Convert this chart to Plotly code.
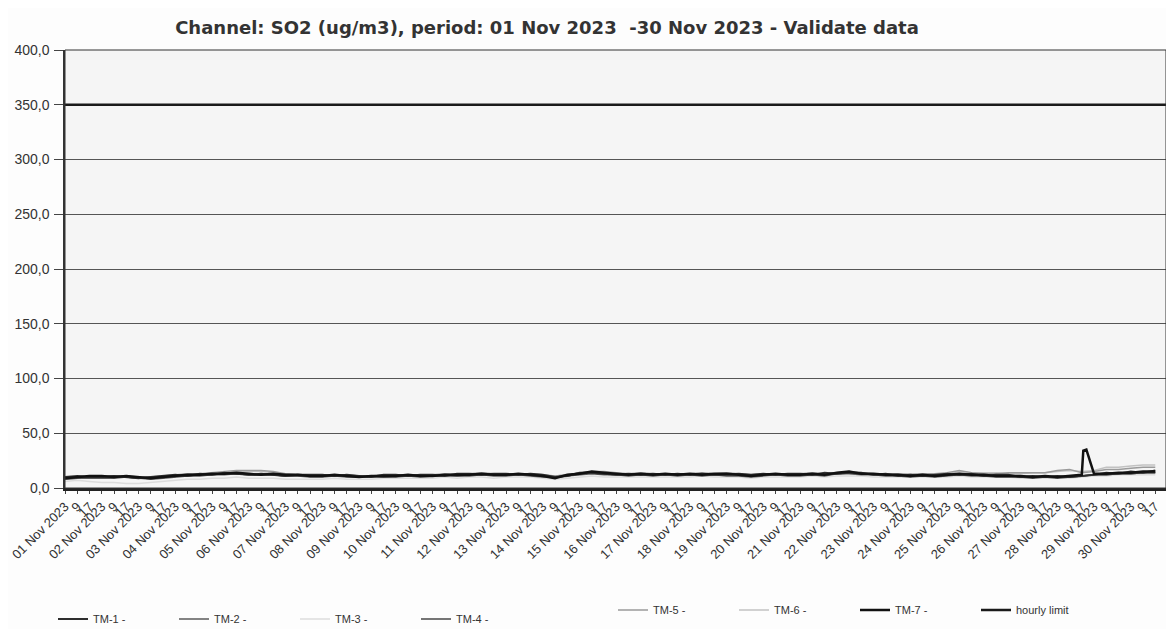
import plotly.graph_objects as go

# ---------------- data ----------------
days = [f"{d:02d} Nov 2023" for d in range(1, 31)]
slot_labels = ["", "9", "17"]          # labels of the 3 ticks per day (01h, 09h, 17h)
step_hours = 8                          # data & tick spacing in hours

tm1 = [10,11,10, 10,11,10, 9,10,11, 12,11,13, 12,14,13, 12,13,12, 11,12,12, 12,11,12, 11,10,12, 12,11,12,
       12,11,13, 13,12,13, 13,12,13, 12,10,11, 14,14,13, 12,13,12, 13,12,13, 12,13,12, 12,13,12, 13,12,13,
       13,12,14, 13,14,14, 12,13,11, 12,11,12, 13,12,13, 11,12,12, 10,11,10, 11,10,11, 12,14,13, 15,14,16]
tm2 = [8,9,9, 9,9,10, 9,8,9, 10,11,11, 12,12,13, 12,12,12, 11,11,10, 10,11,10, 10,10,10, 10,11,10,
       11,11,11, 11,12,11, 11,12,11, 10,10,11, 12,13,12, 12,11,12, 11,12,11, 12,11,12, 11,11,10, 11,12,11,
       11,12,11, 13,13,12, 12,11,11, 10,11,10, 11,12,11, 11,10,10, 10,9,10, 9,10,11, 12,12,13, 13,14,14]
tm3 = [6,7,6, 5,5,4, 4,5,6, 7,8,8, 9,9,10, 9,9,9, 8,8,8, 8,9,8, 8,8,9, 9,9,9,
       9,10,9, 10,10,9, 10,10,10, 9,8,9, 10,11,10, 10,10,10, 10,10,10, 10,11,10, 10,10,9, 10,10,10,
       10,11,10, 11,11,11, 10,10,10, 10,10,10, 10,11,10, 10,10,10, 9,9,9, 9,9,10, 11,11,12, 12,12,12]
tm4 = [9,10,10, 10,10,10, 9,9,10, 11,11,12, 12,13,13, 12,12,12, 11,11,11, 11,11,11, 10,11,10, 11,11,11,
       11,12,11, 12,12,12, 12,12,12, 11,10,11, 13,14,13, 12,12,12, 12,12,12, 12,12,12, 12,12,11, 12,12,12,
       12,12,12, 13,14,13, 12,12,12, 11,11,11, 12,12,12, 11,11,11, 10,10,10, 10,10,11, 12,12,13, 13,14,14]
tm5 = [9,10,10, 10,11,11, 10,10,11, 12,13,13, 14,15,16, 16,16,15, 13,12,12, 12,12,12, 11,11,12, 12,12,12,
       12,13,12, 13,14,13, 13,13,13, 12,11,12, 14,15,15, 14,13,14, 13,13,13, 13,14,13, 14,13,12, 13,13,13,
       13,14,13, 14,15,14, 13,13,13, 12,13,13, 14,16,14, 13,13,14, 14,14,14, 16,17,14, 15,17,17, 18,19,19]
tm6 = [8,9,9, 9,10,10, 9,9,10, 11,12,12, 13,14,15, 15,15,14, 12,12,11, 11,11,11, 11,11,11, 11,12,11,
       12,12,12, 12,13,13, 13,13,12, 11,11,12, 13,14,14, 13,13,13, 13,13,13, 13,13,13, 13,12,12, 12,13,12,
       13,13,13, 14,14,14, 13,13,13, 13,13,13, 13,15,14, 14,14,13, 13,14,14, 15,16,15, 16,19,19, 20,21,21]
tm7 = [9,10,11, 11,10,11, 10,9,10, 11,12,12, 13,13,14, 13,12,13, 12,12,11, 11,12,11, 10,11,11, 11,12,11,
       11,12,12, 12,13,12, 12,13,12, 11,9,12, 13,15,14, 13,12,13, 12,13,12, 13,12,13, 13,12,11, 12,13,12,
       12,13,12, 14,15,13, 13,12,12, 11,12,11, 12,13,12, 12,11,11, 11,10,11, 10,11,12, 13,13,14, 14,15,15]
tm7_spike_hours = [665, 667]
tm7_spike_vals = [34, 35]
hourly_limit = 350

y_ticks = [0, 50, 100, 150, 200, 250, 300, 350, 400]

# ---------------- build ----------------
hours = [i * step_hours for i in range(len(tm7))]
tick_vals, tick_text = [], []
for d, day in enumerate(days):
    for s, lab in enumerate(slot_labels):
        tick_vals.append((d * 3 + s) * step_hours)
        tick_text.append(day if s == 0 else lab)

pairs = sorted(list(zip(hours, tm7)) + list(zip(tm7_spike_hours, tm7_spike_vals)))
tm7_x = [p[0] for p in pairs]
tm7_y = [p[1] for p in pairs]
x_end = 719

W, H = 1158, 621   # page has an 8px body margin; keep the figure inside the 1174x637 window

fig = go.Figure()
series = [
    ("TM-3 -", tm3, "#dcdcdc", 1.5, 3, "legend"),
    ("TM-6 -", tm6, "#c2c2c2", 1.5, 6, "legend2"),
    ("TM-5 -", tm5, "#9a9a9a", 1.5, 5, "legend2"),
    ("TM-2 -", tm2, "#5a5a5a", 1.5, 2, "legend"),
    ("TM-4 -", tm4, "#474747", 1.5, 4, "legend"),
    ("TM-1 -", tm1, "#2e2e2e", 2.0, 1, "legend"),
]
for name, vals, col, w, rank, leg in series:
    fig.add_trace(go.Scatter(x=hours, y=vals, mode="lines", name=name,
                             line=dict(color=col, width=w), legendrank=rank, legend=leg))
fig.add_trace(go.Scatter(x=tm7_x, y=tm7_y, mode="lines", name="TM-7 -",
                         line=dict(color="#111111", width=2.5), legendrank=7, legend="legend2"))
fig.add_trace(go.Scatter(x=[0, x_end], y=[hourly_limit, hourly_limit], mode="lines", name="hourly limit",
                         line=dict(color="#1a1a1a", width=2.5), legendrank=8, legend="legend2"))

legend_common = dict(orientation="h", entrywidth=76, entrywidthmode="pixels",
                     font=dict(family="Liberation Sans Narrow, Liberation Sans, Arial", size=11, color="#333"),
                     bgcolor="rgba(0,0,0,0)", xref="container", yref="container",
                     yanchor="middle", xanchor="left", itemwidth=30, tracegroupgap=0)

fig.update_layout(
    width=W, height=H,
    margin=dict(l=57, r=0, t=42, b=141),
    paper_bgcolor="#fdfdfd", plot_bgcolor="#f5f5f5",
    title=dict(text="<b>Channel: SO2 (ug/m3), period: 01 Nov 2023  -30 Nov 2023 - Validate data</b>",
               font=dict(family="DejaVu Sans", size=18, color="#333"),
               x=539 / W, xanchor="center", xref="container", y=1 - 20 / H, yanchor="middle", yref="container"),
    showlegend=True,
    legend=dict(x=45 / W, y=1 - 611 / H, **legend_common),
    legend2=dict(x=605 / W, y=1 - 602 / H, **legend_common),
    xaxis=dict(range=[0, x_end], tickmode="array", tickvals=tick_vals, ticktext=tick_text,
               tickangle=-45, tickfont=dict(family="Liberation Sans, Arial", size=13, color="#333"),
               ticklabeloverflow="allow",
               showgrid=False, zeroline=False, showline=True, linecolor="#222", linewidth=3,
               ticks="outside", ticklen=3, tickcolor="#444", automargin=False),
    yaxis=dict(range=[0, 400], tickmode="array", tickvals=y_ticks,
               ticktext=[f"{v:.1f}".replace(".", ",") for v in y_ticks],
               tickfont=dict(family="Liberation Sans, Arial", size=14, color="#333"),
               showgrid=True, gridcolor="#555", gridwidth=1, zeroline=False,
               showline=True, linecolor="#333", linewidth=1.5, ticklabelstandoff=2,
               ticks="outside", ticklen=9, tickcolor="#444", automargin=False),
    shapes=[dict(type="rect", xref="paper", yref="paper", x0=0, x1=1, y0=0, y1=1,
                 line=dict(color="#333", width=1), fillcolor="rgba(0,0,0,0)", layer="above")],
)

fig.write_html("out.html")
